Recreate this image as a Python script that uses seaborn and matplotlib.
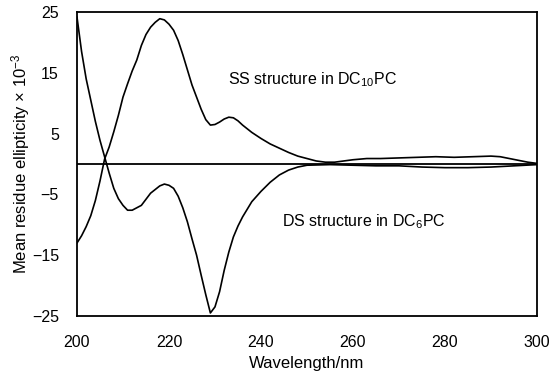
import numpy as np
import pandas as pd
import matplotlib
matplotlib.use("Agg")
import matplotlib.pyplot as plt
import seaborn as sns

# ---- data ----
ss_wavelength = [200, 201, 202, 203, 204, 205, 206, 207, 208, 209, 210, 211, 212, 213, 214,
                 215, 216, 217, 218, 219, 220, 221, 222, 223, 224, 225, 226, 227, 228, 229,
                 230, 231, 232, 233, 234, 235, 236, 238, 240, 242, 244, 246, 248, 250, 252,
                 254, 256, 258, 260, 263, 266, 270, 274, 278, 282, 286, 290, 292, 294, 296,
                 298, 300]
ss_ellipticity = [-13.0, -11.8, -10.3, -8.5, -6.0, -2.8, 0.8, 2.8, 5.3, 8.0, 11.0, 13.2, 15.3,
                  17.1, 19.5, 21.3, 22.5, 23.3, 23.9, 23.7, 23.0, 22.0, 20.3, 18.0, 15.5, 13.0,
                  11.0, 9.0, 7.3, 6.4, 6.5, 6.9, 7.4, 7.7, 7.6, 7.1, 6.4, 5.2, 4.2, 3.3, 2.6,
                  1.9, 1.3, 0.9, 0.5, 0.3, 0.3, 0.5, 0.7, 0.9, 0.9, 1.0, 1.1, 1.2, 1.1, 1.2,
                  1.3, 1.2, 0.9, 0.6, 0.3, 0.1]

ds_wavelength = [200, 201, 202, 203, 204, 205, 206, 207, 208, 209, 210, 211, 212, 213, 214,
                 215, 216, 217, 218, 219, 220, 221, 222, 223, 224, 225, 226, 227, 228, 229,
                 230, 231, 232, 233, 234, 235, 236, 238, 240, 242, 244, 246, 248, 250, 255,
                 260, 265, 270, 275, 280, 285, 290, 295, 300]
ds_ellipticity = [24.2, 18.5, 14.0, 10.5, 7.0, 3.9, 1.2, -1.5, -4.0, -5.7, -6.8, -7.6, -7.6,
                  -7.2, -6.8, -5.8, -4.8, -4.2, -3.6, -3.3, -3.5, -4.0, -5.3, -7.2, -9.5,
                  -12.3, -15.0, -18.3, -21.5, -24.5, -23.5, -21.0, -17.5, -14.5, -12.0, -10.2,
                  -8.7, -6.2, -4.5, -3.0, -1.8, -1.0, -0.5, -0.2, -0.1, -0.2, -0.3, -0.3,
                  -0.5, -0.6, -0.6, -0.5, -0.3, -0.1]

x_ticks = [200, 220, 240, 260, 280, 300]
y_ticks = [-25, -15, -5, 5, 15, 25]

df = pd.concat([
    pd.DataFrame({"wavelength": ss_wavelength, "ellipticity": ss_ellipticity, "series": "SS"}),
    pd.DataFrame({"wavelength": ds_wavelength, "ellipticity": ds_ellipticity, "series": "DS"}),
])

sns.set_style("white")
plt.rcParams["font.family"] = ["Liberation Sans", "DejaVu Sans"]
plt.rcParams["mathtext.fontset"] = "custom"
plt.rcParams["mathtext.rm"] = "Liberation Sans"
plt.rcParams["mathtext.it"] = "Liberation Sans"
plt.rcParams["text.color"] = "black"
plt.rcParams["axes.labelcolor"] = "black"

fig = plt.figure(figsize=(5.51, 3.73), dpi=100)
ax = fig.add_axes([0.1397, 0.1528, 0.8349, 0.815])

sns.lineplot(data=df, x="wavelength", y="ellipticity", units="series", estimator=None,
             color="black", linewidth=1.2, sort=False, ax=ax, legend=False)
ax.axhline(0, color="black", linewidth=1.3, zorder=1)

ax.set_xlim(200, 300)
ax.set_ylim(-25, 25)
ax.set_xticks(x_ticks)
ax.set_yticks(y_ticks)
ax.set_yticklabels([str(v).replace("-", "\u2212") for v in y_ticks])
ax.tick_params(axis="both", labelsize=11.5, length=2, width=0.8, colors="black")
ax.tick_params(axis="y", pad=11)
ax.tick_params(axis="x", pad=12)

for s in ax.spines.values():
    s.set_color("black")
    s.set_linewidth(1.3)

ax.set_xlabel("Wavelength/nm", fontsize=12, labelpad=4)
ax.set_ylabel("Mean residue ellipticity \u00d7 10$^{-3}$", fontsize=12, labelpad=0)

ax.text(232.8, 13.8, "SS structure in DC$_{10}$PC", fontsize=11.5, va="center", ha="left")
ax.text(244.6, -9.5, "DS structure in DC$_{6}$PC", fontsize=11.5, va="center", ha="left")

fig.savefig("out.png", dpi=100)
